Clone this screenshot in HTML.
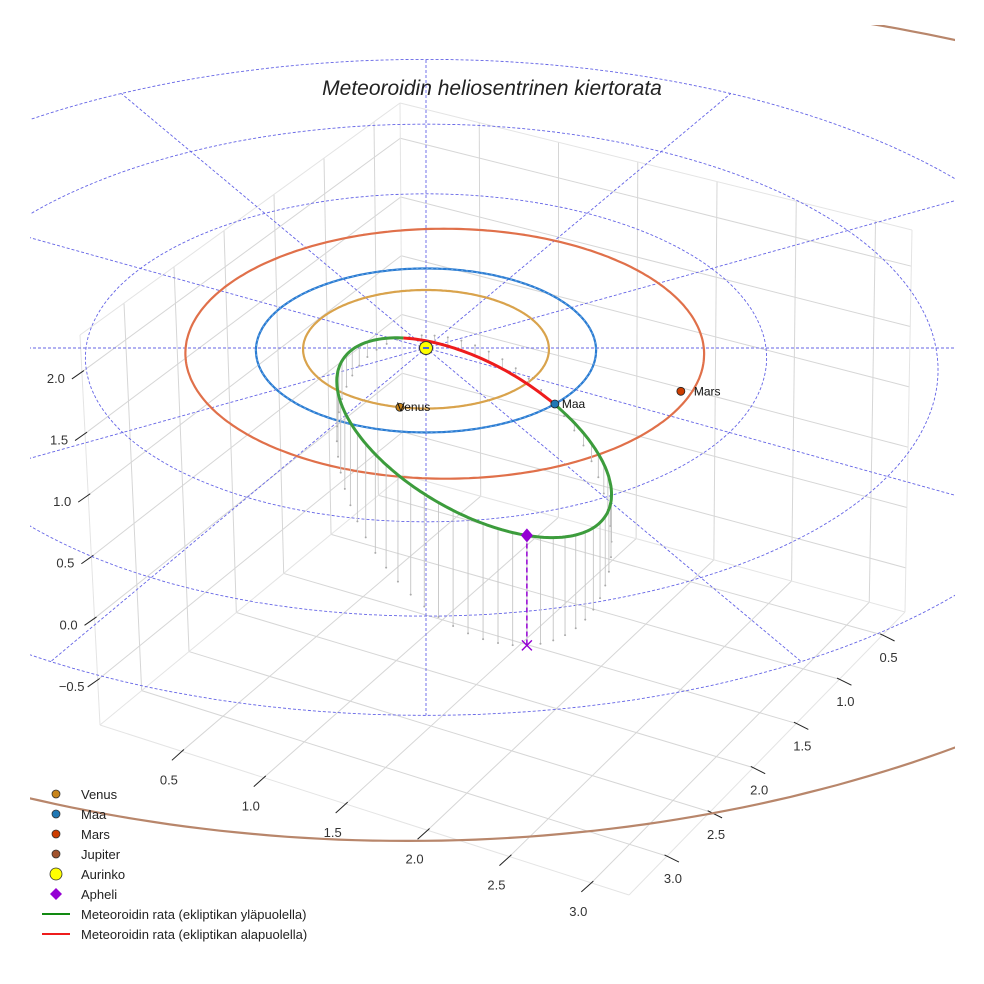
<!DOCTYPE html>
<html><head><meta charset="utf-8"><title>Meteoroidin heliosentrinen kiertorata</title>
<style>
html,body{margin:0;padding:0;background:#fff;}
svg{display:block;font-family:"Liberation Sans",sans-serif;}
</style></head>
<body>
<svg id="chart" width="984" height="984" viewBox="0 0 984 984" xmlns="http://www.w3.org/2000/svg">
<defs><clipPath id="axclip"><rect x="30" y="25" width="925" height="940"/></clipPath></defs>
<rect x="0" y="0" width="984" height="984" fill="#fff"/>
<g id="box"></g>
<g id="ticks"></g>
<g id="eclip" clip-path="url(#axclip)"></g>
<text x="492" y="95" text-anchor="middle" font-size="21" font-style="italic" fill="#222">Meteoroidin heliosentrinen kiertorata</text>
<g id="legend"></g>
</svg>
<script>
// ---- data ----
const planetNames = ['Venus', 'Maa', 'Mars', 'Jupiter'];
const planetOrbitRadius = [0.723, 1.0, 1.524, 5.2];
const planetOrbitCenterX = [0, 0, 0.11, -0.1];
const planetAngleDeg = [102, 42, 19.4, 150];
const planetShown = [true, true, true, false];
const ringRadii = [2, 3, 4];
const spokeAnglesDeg = [0, 30, 60, 90, 120, 150, 180, 210, 240, 270, 300, 330];
const aphelionVec = [0.54, 3.3, 0.82];
const nodeDir = [0.741, 0.672];
const xTicks = [0.5, 1.0, 1.5, 2.0, 2.5, 3.0];
const yTicks = [0.5, 1.0, 1.5, 2.0, 2.5, 3.0];
const zTicks = [-0.5, 0.0, 0.5, 1.0, 1.5, 2.0];
const xRange = [0, 3.23];
const yRange = [0.24, 3.44];
const zRange = [-0.866, 2.30];
const legendLabels = ['Venus', 'Maa', 'Mars', 'Jupiter', 'Aurinko', 'Apheli',
  'Meteoroidin rata (ekliptikan yläpuolella)', 'Meteoroidin rata (ekliptikan alapuolella)'];

// ---- styles ----
const orbitColors = ['#d9a34c', '#2a7bd1', '#e0704a', '#b8866b'];
const markerColors = ['#c8841a', '#1f77b4', '#cc3d00', '#a0522d'];
const orbitScaleX = [1, 1, 1, 1.11];
const NS = 'http://www.w3.org/2000/svg';

function el(tag, parent) { const e = document.createElementNS(NS, tag); parent.appendChild(e); return e; }
function P(x, y, z) { const p = 1 + 0.03 * y; return [426 + 170 * x * p, 348 + 82 * y * p - 122 * z * p]; }
function pts(a) { return a.map(q => q[0].toFixed(1) + ',' + q[1].toFixed(1)).join(' '); }
function lerp(a, b, t) { return [a[0] + (b[0] - a[0]) * t, a[1] + (b[1] - a[1]) * t]; }
function bil(A, B, C, D, u, v) { return lerp(lerp(A, B, u), lerp(C, D, u), v); }
const fx = v => (v - xRange[0]) / (xRange[1] - xRange[0]);
const fy = v => (v - yRange[0]) / (yRange[1] - yRange[0]);
const fz = v => (v - zRange[0]) / (zRange[1] - zRange[0]);

// ---- box ----
const BL = [100, 725], F = [629, 895], BR = [905, 612], BB = [403, 475];
const TB = [400, 103], TL = [80, 335], TR = [912, 230];
const box = document.getElementById('box');
function gline(a, b, col, w, name) {
  const l = el('line', box);
  
  
  l.setAttribute('x1', a[0]); l.setAttribute('y1', a[1]); l.setAttribute('x2', b[0]); l.setAttribute('y2', b[1]);
  l.setAttribute('stroke', col); l.setAttribute('stroke-width', w);
}
const floorPt = (u, v) => bil(BB, BR, BL, F, u, v);
const leftPt = (v, w) => bil(BB, BL, TB, TL, v, w);
const rightPt = (u, w) => bil(BB, BR, TB, TR, u, w);
xTicks.forEach(t => { gline(floorPt(fx(t), 0), floorPt(fx(t), 1), '#d6d6d6', 1, 'floor-gridline-x'); gline(rightPt(fx(t), 0), rightPt(fx(t), 1), '#d6d6d6', 1, 'wall-gridline-x'); });
yTicks.forEach(t => { gline(floorPt(0, fy(t)), floorPt(1, fy(t)), '#d6d6d6', 1, 'floor-gridline-y'); gline(leftPt(fy(t), 0), leftPt(fy(t), 1), '#d6d6d6', 1, 'wall-gridline-y'); });
zTicks.forEach(t => { gline(leftPt(0, fz(t)), leftPt(1, fz(t)), '#d6d6d6', 1, 'wall-gridline-z'); gline(rightPt(0, fz(t)), rightPt(1, fz(t)), '#d6d6d6', 1, 'wall-gridline-z'); });
[[BL, F], [F, BR], [BL, BB], [BB, BR], [BB, TB], [BL, TL], [BR, TR], [TL, TB], [TB, TR]].forEach(e => gline(e[0], e[1], '#e4e4e4', 1, 'pane-edge'));

// ---- ticks ----
const tk = document.getElementById('ticks');
function tick(a, d, lab, off, name) {
  const l = el('line', tk);
  
  
  l.setAttribute('x1', a[0] + d[0] * 0.2); l.setAttribute('y1', a[1] + d[1] * 0.2);
  l.setAttribute('x2', a[0] - d[0]); l.setAttribute('y2', a[1] - d[1]);
  l.setAttribute('stroke', '#222'); l.setAttribute('stroke-width', 1);
  const t = el('text', tk);
  
  
  t.setAttribute('x', a[0] + off[0]); t.setAttribute('y', a[1] + off[1]);
  t.setAttribute('text-anchor', 'middle'); t.setAttribute('font-size', 13); t.setAttribute('fill', '#333');
  t.textContent = lab;
}
xTicks.forEach(v => tick(floorPt(fx(v), 1), [10, -9], v.toFixed(1), [-13, 33], 'x-tick'));
yTicks.forEach(v => tick(floorPt(1, fy(v)), [-12, -6], v.toFixed(1), [6, 27], 'y-tick'));
zTicks.forEach(v => tick(leftPt(1, fz(v)), [10, -7], v < 0 ? '\u22120.5' : v.toFixed(1), [-26, 11], 'z-tick'));

// ---- ecliptic layer ----
const ec = document.getElementById('eclip');
function poly(points, col, w, dash, name) {
  const p = el('polyline', ec);
  
  
  p.setAttribute('points', pts(points)); p.setAttribute('fill', 'none');
  p.setAttribute('stroke', col); p.setAttribute('stroke-width', w);
  if (dash) p.setAttribute('stroke-dasharray', dash);
  p.setAttribute('stroke-linejoin', 'round');
}
ringRadii.forEach(r => {
  const a = []; for (let d = 0; d <= 360; d += 2) { const t = d * Math.PI / 180; a.push(P(r * Math.cos(t), r * Math.sin(t), 0)); }
  poly(a, '#6464e6', 0.9, '3,2', 'ecliptic-ring');
});
spokeAnglesDeg.forEach(d => {
  const t = d * Math.PI / 180; const r = ringRadii[ringRadii.length - 1];
  poly([P(0, 0, 0), P(r * Math.cos(t), r * Math.sin(t), 0)], '#6464e6', 0.9, '3,2', 'ecliptic-spoke');
});
function orbitPt(i, t) {
  const x = planetOrbitCenterX[i] + planetOrbitRadius[i] * Math.cos(t), y = planetOrbitRadius[i] * Math.sin(t);
  const q = P(x, y, 0);
  if (orbitScaleX[i] !== 1) q[0] = 426 + 170 * x * orbitScaleX[i];
  return q;
}
planetNames.forEach((n, i) => {
  const a = []; for (let d = 0; d <= 360; d += 1) a.push(orbitPt(i, d * Math.PI / 180));
  poly(a, orbitColors[i], 2.2, null, 'orbit-' + n.toLowerCase());
  if (i === 1) poly(a, '#6aa8e8', 1, '2,3', 'orbit-maa-overlay');
});

// meteoroid orbit
const A = aphelionVec, ra = Math.hypot(A[0], A[1], A[2]);
const Ah = A.map(v => v / ra);
const nl = Math.hypot(nodeDir[0], nodeDir[1]); const Nh = [nodeDir[0] / nl, nodeDir[1] / nl, 0];
const cphi = Nh[0] * Ah[0] + Nh[1] * Ah[1];
const nuN = Math.PI - Math.acos(cphi);
const ecc = (ra - 1) / (ra - cphi);
const semiLatus = ra * (1 - ecc);
const Ph = Ah.map(v => -v);
const Qh = [0, 1, 2].map(k => (Nh[k] - Math.cos(nuN) * Ph[k]) / Math.sin(nuN));
const samples = [];
for (let k = 0; k <= 240; k++) {
  const E = -Math.PI + 2 * Math.PI * k / 240;
  const nu = 2 * Math.atan2(Math.sqrt(1 + ecc) * Math.sin(E / 2), Math.sqrt(1 - ecc) * Math.cos(E / 2));
  const r = semiLatus / (1 + ecc * Math.cos(nu));
  samples.push([0, 1, 2].map(j => r * (Math.cos(nu) * Ph[j] + Math.sin(nu) * Qh[j])));
}
samples.forEach((s, k) => {
  if (k % 4 !== 0) return;
  const a = P(s[0], s[1], s[2]), b = P(s[0], s[1], 0);
  const l = el('line', ec);
  
  
  l.setAttribute('x1', a[0]); l.setAttribute('y1', a[1]); l.setAttribute('x2', b[0]); l.setAttribute('y2', b[1]);
  l.setAttribute('stroke', '#c4c4c4'); l.setAttribute('stroke-width', 0.9);
  const c = el('circle', ec);
  
  
  c.setAttribute('cx', b[0]); c.setAttribute('cy', b[1]); c.setAttribute('r', 1); c.setAttribute('fill', '#aaa');
});
let seg = [], sign = null;
function flush() {
  if (seg.length > 1) poly(seg, sign ? '#3c9c3c' : '#ee1c1c', 3, null, sign ? 'meteoroid-orbit-above' : 'meteoroid-orbit-below');
}
samples.concat([samples[0]]).forEach(s => {
  const sg = s[2] >= 0;
  const q = P(s[0], s[1], s[2]);
  if (sign !== null && sg !== sign) { seg.push(q); flush(); seg = [q]; sign = sg; return; }
  sign = sg; seg.push(q);
});
flush();

// sun
const sp = P(0, 0, 0);
const sun = el('circle', ec);


sun.setAttribute('cx', sp[0]); sun.setAttribute('cy', sp[1]); sun.setAttribute('r', 6.5);
sun.setAttribute('fill', '#ffff00'); sun.setAttribute('stroke', '#333'); sun.setAttribute('stroke-width', 1);
const sunIn = el('line', ec);


sunIn.setAttribute('x1', sp[0] - 3); sunIn.setAttribute('y1', sp[1]); sunIn.setAttribute('x2', sp[0] + 3); sunIn.setAttribute('y2', sp[1]);
sunIn.setAttribute('stroke', '#4a6ad0'); sunIn.setAttribute('stroke-width', 2);

// planets
planetNames.forEach((n, i) => {
  if (!planetShown[i]) return;
  const t = planetAngleDeg[i] * Math.PI / 180, r = planetOrbitRadius[i];
  const rr = i === 2 ? 1.565 : r;
  const q = P(rr * Math.cos(t), rr * Math.sin(t), 0);
  const c = el('circle', ec);
  
  
  c.setAttribute('cx', q[0]); c.setAttribute('cy', q[1]); c.setAttribute('r', 4);
  c.setAttribute('fill', markerColors[i]); c.setAttribute('stroke', '#222'); c.setAttribute('stroke-width', 0.8);
  const tx = el('text', ec);
  
  
  tx.setAttribute('x', q[0] + (i === 0 ? -3 : i === 1 ? 7 : 13)); tx.setAttribute('y', q[1] + 4);
  tx.setAttribute('font-size', 12); tx.setAttribute('fill', '#111');
  tx.textContent = n;
});

// aphelion
const ap = P(A[0], A[1], A[2]), ab = P(A[0], A[1], 0);
const al = el('line', ec);


al.setAttribute('x1', ap[0]); al.setAttribute('y1', ap[1]); al.setAttribute('x2', ab[0]); al.setAttribute('y2', ab[1]);
al.setAttribute('stroke', '#9400d3'); al.setAttribute('stroke-width', 1.5); al.setAttribute('stroke-dasharray', '5,3');
const ad = el('polygon', ec);


ad.setAttribute('points', pts([[ap[0], ap[1] - 7], [ap[0] + 6, ap[1]], [ap[0], ap[1] + 7], [ap[0] - 6, ap[1]]]));
ad.setAttribute('fill', '#9400d3');
const ax = el('path', ec);


ax.setAttribute('d', `M${ab[0] - 5},${ab[1] - 5}L${ab[0] + 5},${ab[1] + 5}M${ab[0] + 5},${ab[1] - 5}L${ab[0] - 5},${ab[1] + 5}`);
ax.setAttribute('stroke', '#9400d3'); ax.setAttribute('stroke-width', 1.4);

// ---- legend ----
const lg = document.getElementById('legend');
legendLabels.forEach((lab, i) => {
  const y = 794 + i * 20;
  let m;
  if (i < 4) {
    m = el('circle', lg); m.setAttribute('cx', 56); m.setAttribute('cy', y); m.setAttribute('r', 4);
    m.setAttribute('fill', markerColors[i]); m.setAttribute('stroke', '#333'); m.setAttribute('stroke-width', 0.8);
  } else if (i === 4) {
    m = el('circle', lg); m.setAttribute('cx', 56); m.setAttribute('cy', y); m.setAttribute('r', 6);
    m.setAttribute('fill', '#ffff00'); m.setAttribute('stroke', '#333'); m.setAttribute('stroke-width', 0.8);
  } else if (i === 5) {
    m = el('polygon', lg); m.setAttribute('points', pts([[56, y - 6], [62, y], [56, y + 6], [50, y]])); m.setAttribute('fill', '#9400d3');
  } else {
    m = el('line', lg); m.setAttribute('x1', 42); m.setAttribute('x2', 70); m.setAttribute('y1', y); m.setAttribute('y2', y);
    m.setAttribute('stroke', i === 6 ? '#128a12' : '#ee1c1c'); m.setAttribute('stroke-width', 2);
  }
  
  
  const t = el('text', lg);
  
  
  t.setAttribute('x', 81); t.setAttribute('y', y + 5); t.setAttribute('font-size', 13); t.setAttribute('fill', '#222');
  t.textContent = lab;
});
</script>
</body></html>
